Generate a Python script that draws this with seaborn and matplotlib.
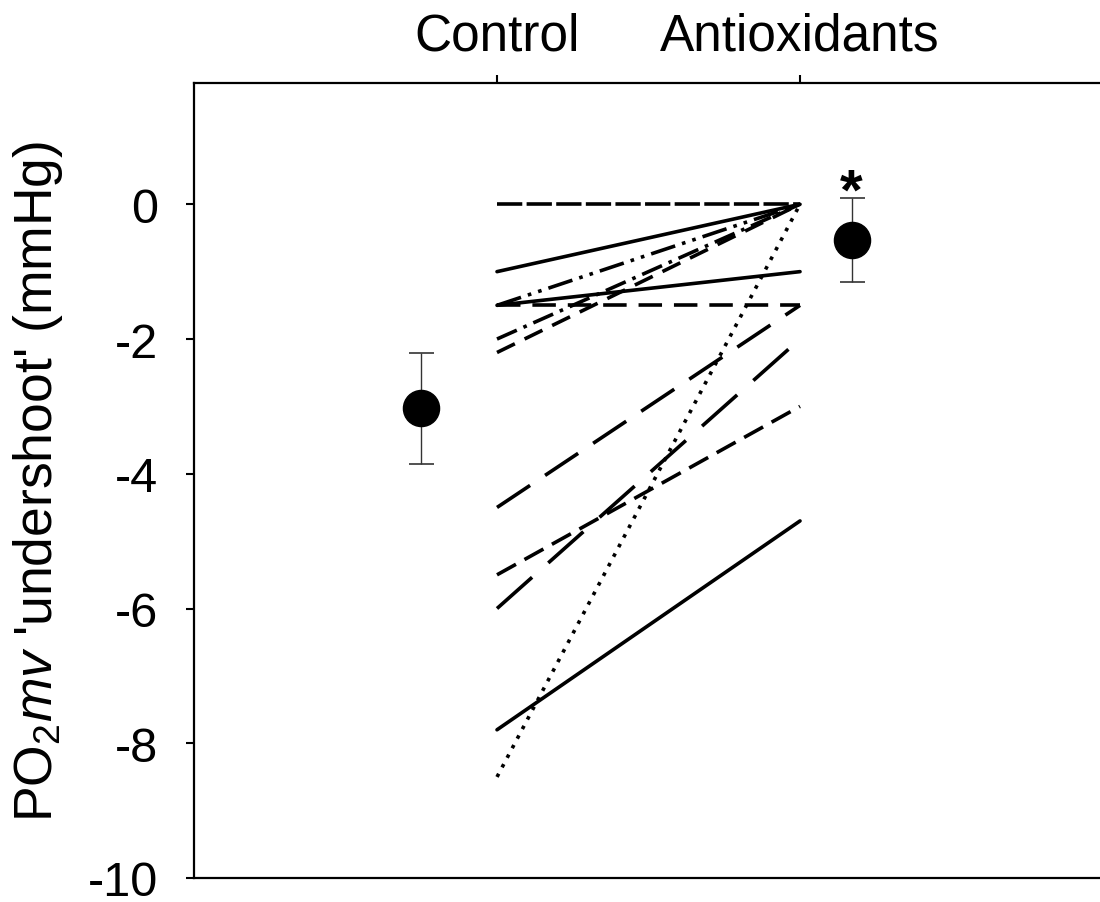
import numpy as np
import pandas as pd
import matplotlib
matplotlib.use("Agg")
import matplotlib.pyplot as plt
import seaborn as sns

# =============================================================================
# 1. DATOS
# =============================================================================
condiciones = ["Control", "Antioxidants"]
control = [0.0, -1.0, -1.5, -1.5, -1.5, -2.0, -2.2, -4.5, -5.5, -6.0, -7.8, -8.5]
antioxidantes = [0.0, 0.0, 0.0, -1.0, -1.5, 0.0, 0.0, -1.5, -3.0, -2.0, -4.7, 0.0]
medias = [-3.03, -0.53]
errores = [0.82, 0.62]
y_ticks = [0, -2, -4, -6, -8, -10]

# estilos de línea por sujeto ("" = continua)
estilos = [(7, 1.2), "", (7, 2, 1, 2, 1, 2), "", (6.5, 3.3), (6, 2, 1, 2),
           (5.5, 3), (11, 5), (6, 2.7), (13, 6), "", (1, 2)]

n = len(control)
df = pd.DataFrame({
    "sujeto": np.repeat(np.arange(n), 2),
    "pos": np.tile([1, 2], n),
    "valor": np.ravel(np.column_stack([control, antioxidantes])),
})

# =============================================================================
# 2. FIGURA
# =============================================================================
sns.set_style("white")
plt.rcParams["font.family"] = ["Liberation Sans", "DejaVu Sans"]
plt.rcParams["mathtext.fontset"] = "custom"
plt.rcParams["mathtext.rm"] = "Liberation Sans"
plt.rcParams["mathtext.it"] = "Liberation Sans:italic"
plt.rcParams["axes.unicode_minus"] = False
for clave in ["text.color", "axes.labelcolor", "xtick.color", "ytick.color"]:
    plt.rcParams[clave] = "black"

fig = plt.figure(figsize=(11, 9.03), dpi=100)
ax = fig.add_axes([194 / 1100, 24 / 903, 906 / 1100, 795 / 903])

sns.lineplot(data=df, x="pos", y="valor", units="sujeto", style="sujeto",
             dashes=estilos, color="black", estimator=None, legend=False,
             linewidth=2.6, ax=ax)

# medias +- error
pos_medias = [0.75, 2.17]
ax.errorbar(pos_medias, medias, yerr=errores, fmt="o", color="black",
            markersize=26, elinewidth=1, ecolor="#333333", capsize=9,
            capthick=1.2, zorder=5)
ax.text(pos_medias[1], medias[1] + errores[1] - 0.15, "*", ha="center",
        va="baseline", fontsize=42, fontweight="bold")

ax.set_xlim(0, 2.99)
ax.set_ylim(-10, 1.8)
ax.xaxis.tick_top()
ax.set_xticks([1, 2])
ax.set_xticklabels(condiciones)
ax.set_yticks(y_ticks)
ax.set_yticklabels([str(v) for v in y_ticks])
ax.tick_params(axis="x", which="both", top=True, bottom=False, direction="out",
               length=6, width=1.5, labelsize=37, pad=10)
ax.tick_params(axis="y", left=True, direction="out", length=6, width=1.5,
               labelsize=35, pad=20)
ax.set_xlabel("")
ax.set_ylabel(r"PO$_2$$\it{mv}$ 'undershoot' (mmHg)", fontsize=38.5, labelpad=16)

for lado in ["left", "top", "bottom"]:
    ax.spines[lado].set_visible(True)
    ax.spines[lado].set_linewidth(1.6)
    ax.spines[lado].set_color("black")
ax.spines["right"].set_visible(False)

fig.savefig("out.png", dpi=100)
plt.close(fig)
